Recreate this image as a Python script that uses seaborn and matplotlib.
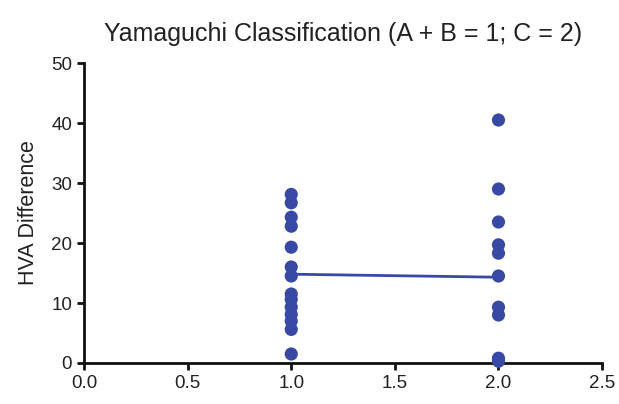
import matplotlib
matplotlib.use("Agg")
import matplotlib.pyplot as plt
import seaborn as sns
import pandas as pd

# Data
group1_x = [1.0] * 14
group1_y = [28.1, 26.7, 24.3, 22.8, 19.3, 16.0, 14.5, 11.5, 10.6, 9.3, 8.1, 7.0, 5.6, 1.5]
group2_x = [2.0] * 10
group2_y = [40.5, 29.0, 23.5, 19.7, 18.3, 14.5, 9.3, 8.0, 0.8, 0.3]
mean_x = [1.0, 2.0]
mean_y = [14.8, 14.3]
x_ticks = [0.0, 0.5, 1.0, 1.5, 2.0, 2.5]
y_ticks = [0, 10, 20, 30, 40, 50]

pts = pd.DataFrame({"x": group1_x + group2_x, "y": group1_y + group2_y})
means = pd.DataFrame({"x": mean_x, "y": mean_y})

sns.set_theme(style="ticks")
plt.rcParams["font.family"] = ["Liberation Sans", "DejaVu Sans"]

color = "#3749a5"
fig = plt.figure(figsize=(6.19, 4.04), dpi=100)
ax = fig.add_axes([0.1357, 0.1015, 0.837, 0.7425])

sns.lineplot(data=means, x="x", y="y", ax=ax, color=color, linewidth=2)
sns.scatterplot(data=pts, x="x", y="y", ax=ax, color=color, s=90,
                edgecolor="none", clip_on=False, zorder=3)

ax.set_xlim(0, 2.5)
ax.set_ylim(0, 50)
ax.set_xticks(x_ticks)
ax.set_xticklabels([f"{v:.1f}" for v in x_ticks])
ax.set_yticks(y_ticks)
ax.set_yticklabels([str(v) for v in y_ticks])
ax.tick_params(axis="both", labelsize=13.5, length=5, width=2, color="#111111",
               labelcolor="#222222")
for s in ("left", "bottom"):
    ax.spines[s].set_linewidth(2)
    ax.spines[s].set_color("#111111")
sns.despine(ax=ax)
ax.set_xlabel("")
ax.set_ylabel("HVA Difference", fontsize=15.5, color="#222222", labelpad=9)
ax.set_title("Yamaguchi Classification (A + B = 1; C = 2)", fontsize=18,
             color="#222222", pad=16)

fig.savefig("out.png", dpi=100)
